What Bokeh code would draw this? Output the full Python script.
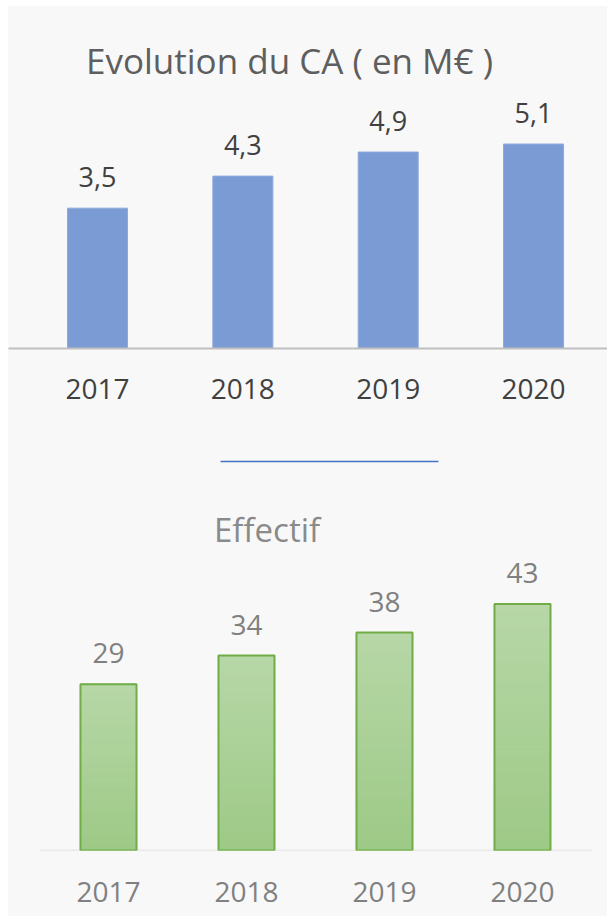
from bokeh.plotting import figure
from bokeh.models import Range1d, FixedTicker, ColumnDataSource
from bokeh.layouts import column
from bokeh.core.properties import value
from bokeh.embed import file_html
from bokeh.resources import INLINE

# ---------------- data ----------------
years = ["2017", "2018", "2019", "2020"]
ca_values = [3.5, 4.3, 4.9, 5.1]
ca_labels = ["3,5", "4,3", "4,9", "5,1"]
eff_values = [29, 34, 38, 43]
eff_labels = ["29", "34", "38", "43"]
title_ca = "Evolution du CA ( en M€ )"
title_eff = "Effectif"

FONT = value("Open Sans")
BG = "#F8F8F8"
xs = list(range(len(years)))

# ---------------- top chart ----------------
p1 = figure(width=599, height=450, output_backend="svg", toolbar_location=None,
            x_range=Range1d(-0.6125, 3.509), y_range=Range1d(0, 8.53),
            min_border_left=0, min_border_right=0, min_border_top=0,
            min_border_bottom=108, y_axis_location=None)
p1.background_fill_color = BG
p1.border_fill_color = BG
p1.outline_line_color = None
p1.grid.visible = False

src1 = ColumnDataSource(dict(x=xs, v=ca_values, lab=ca_labels))
p1.vbar(x="x", top="v", width=0.413, source=src1, fill_color="#7A9BD4",
        line_color="#8FAADC", line_width=1)
p1.text(x="x", y="v", text="lab", source=src1, text_align="center",
        text_baseline="alphabetic", y_offset=-31, text_font=FONT,
        text_font_size="27px", text_color="#404040")
p1.text(x=[1.321], y=[7.18], text=[title_ca], text_align="center",
        text_baseline="middle", text_font=FONT, text_font_size="35px",
        text_color="#5E5E5E")

ax1 = p1.xaxis[0]
ax1.ticker = FixedTicker(ticks=xs)
ax1.major_label_overrides = {i: y for i, y in zip(xs, years)}
ax1.axis_line_color = "#BFBFBF"
ax1.axis_line_width = 2
ax1.major_tick_line_color = None
ax1.minor_tick_line_color = None
ax1.major_label_standoff = 24
ax1.major_label_text_font = "Open Sans"
ax1.major_label_text_font_size = "28px"
ax1.major_label_text_color = "#404040"

# ---------------- bottom chart ----------------
k_eff = 5.735  # px per unit (layout)
p2 = figure(width=599, height=460, output_backend="svg", toolbar_location=None,
            x_range=Range1d(-0.7246, 3.616), y_range=Range1d(0, 394 / k_eff),
            min_border_left=0, min_border_right=0, min_border_top=0,
            min_border_bottom=66, y_axis_location=None)
p2.background_fill_color = BG
p2.border_fill_color = BG
p2.outline_line_color = None
p2.grid.visible = False

# baseline spanning the category band
p2.segment(x0=[xs[0] - 0.5], x1=[xs[-1] + 0.5], y0=[0], y1=[0],
           line_color="#D9D9D9", line_width=1.5)

# gradient bars built from slices of each bar's own value
N = 60
top_rgb = (183, 215, 167)
bot_rgb = (157, 201, 134)
gx, gb, gt, gc = [], [], [], []
for x, v in zip(xs, eff_values):
    for k in range(N):
        f = (k + 0.5) / N
        r = [round(b + (t - b) * f) for b, t in zip(bot_rgb, top_rgb)]
        gx.append(x)
        gb.append(v * k / N)
        gt.append(v * (k + 1) / N)
        gc.append("#%02x%02x%02x" % tuple(r))
p2.vbar(x=gx, bottom=gb, top=gt, width=0.406, fill_color=gc, line_color=gc,
        line_width=1)
src2 = ColumnDataSource(dict(x=xs, v=eff_values, lab=eff_labels))
p2.vbar(x="x", top="v", width=0.406, source=src2, fill_alpha=0,
        line_color="#70AD47", line_width=2)
p2.text(x="x", y="v", text="lab", source=src2, text_align="center",
        text_baseline="alphabetic", y_offset=-31, text_font=FONT,
        text_font_size="28px", text_color="#808080")
p2.text(x=[1.149], y=[55.97], text=[title_eff], text_align="center",
        text_baseline="middle", text_font=FONT, text_font_size="33px",
        text_color="#8A8A8A")
p2.segment(x0=[0.812], x1=[2.391], y0=[67.83], y1=[67.83],
           line_color="#4472C4", line_width=1.5)

ax2 = p2.xaxis[0]
ax2.ticker = FixedTicker(ticks=xs)
ax2.major_label_overrides = {i: y for i, y in zip(xs, years)}
ax2.axis_line_color = None
ax2.major_tick_line_color = None
ax2.minor_tick_line_color = None
ax2.major_label_standoff = 25
ax2.major_label_text_font = "Open Sans"
ax2.major_label_text_font_size = "28px"
ax2.major_label_text_color = "#808080"

layout = column(p1, p2, spacing=0, margin=(6, 0, 0, 8),
                styles={"background-color": BG})

open("out.html", "w").write(file_html(layout, INLINE))
